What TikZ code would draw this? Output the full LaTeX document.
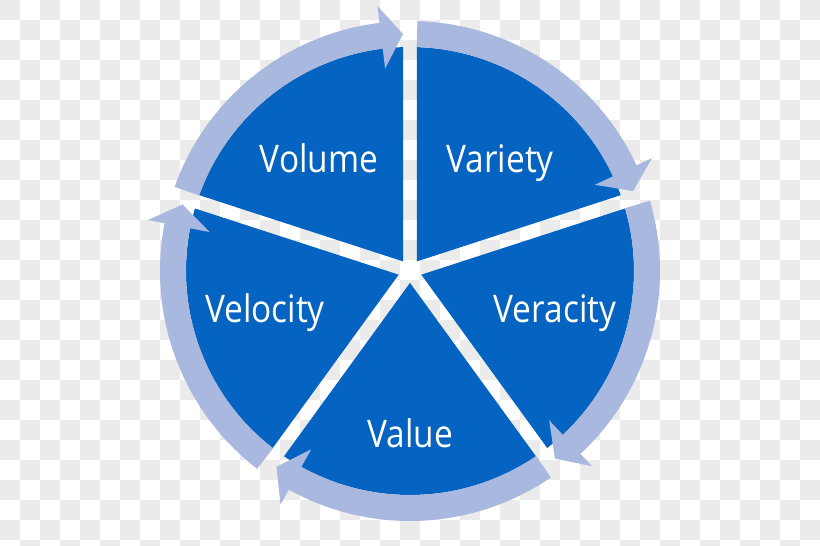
\documentclass[tikz,border=0pt]{standalone}
\usepackage{fontspec}
\setmainfont{Open Sans}[FakeStretch=0.88]
\definecolor{discblue}{RGB}{5,99,193}
\definecolor{ringblue}{RGB}{169,184,222}
\definecolor{checker}{RGB}{235,235,235}
\tikzset{
  sector/.style={fill=discblue},
  ringseg/.style={fill=ringblue},
  lbl/.style={text=white, anchor=base, inner sep=0pt, font=\fontsize{38}{40}\selectfont}
}
\begin{document}
\begin{tikzpicture}[x=1pt,y=1pt]
\useasboundingbox (-410,-275) rectangle (410,271);
% transparency checkerboard
\foreach \i in {0,...,40}{
  \foreach \j in {0,...,27}{
    \pgfmathparse{int(mod(\i+\j,2))}
    \ifnum\pgfmathresult=0
      \fill[checker] (\i*20-410, 251-\j*20) rectangle ++(20,20);
    \fi
  }
}
% disc sectors
\foreach \a in {90,18,-54,-126,-198}{
  \pgfmathsetmacro{\b}{\a-72}
  \pgfmathsetmacro{\s}{\a-1.79}
  \pgfmathsetmacro{\e}{\b+1.79}
  \pgfmathsetmacro{\m}{\a-36}
  \fill[sector] (\m:11.9) -- (\s:224) arc[start angle=\s, end angle=\e, radius=224] -- cycle;
}
% ring arrows
\foreach \a in {90,18,-54,-126,-198}{
  \pgfmathsetmacro{\b}{\a-72}
  \pgfmathsetmacro{\s}{\a-1.7}
  \pgfmathsetmacro{\t}{\b+1.7}
  \pgfmathsetmacro{\h}{\b+7}
  \fill[ringseg] (\s:224) arc[start angle=\s, end angle=\h, radius=224]
    -- (\h:204) -- (\t:237) -- (\h:267) -- (\h:250)
    arc[start angle=\h, end angle=\s, radius=250] -- cycle;
}
% labels
\node[lbl] (volume)   at (-91,98)   {Volume};
\node[lbl] (variety)  at (90,98)    {Variety};
\node[lbl] (veracity) at (145,-52)  {Veracity};
\node[lbl] (velocity) at (-145,-52) {Velocity};
\node[lbl] (value)    at (0,-176)   {Value};
\end{tikzpicture}
\end{document}
